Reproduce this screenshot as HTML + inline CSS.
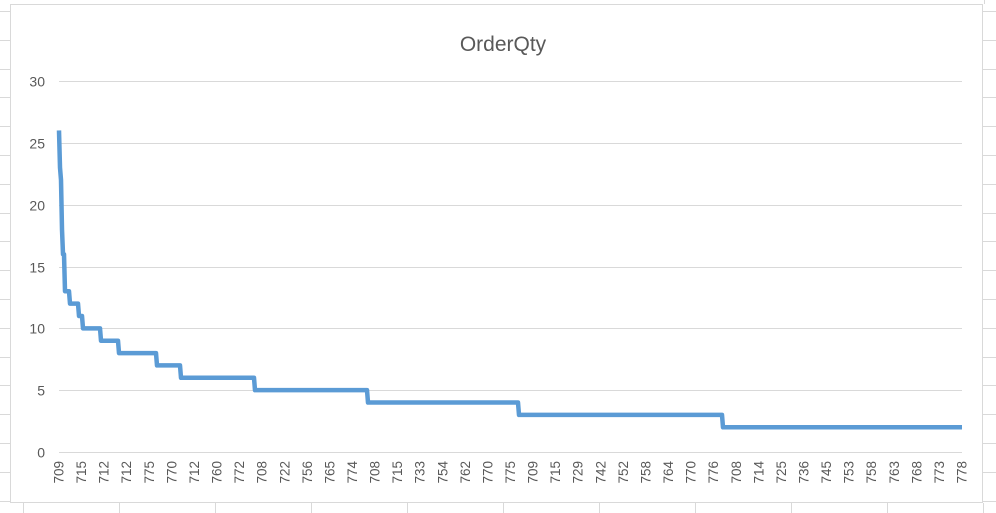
<!DOCTYPE html>
<html><head><meta charset="utf-8"><style>
html,body{margin:0;padding:0;background:#fff;}
svg{display:block;font-family:"Liberation Sans",Calibri,sans-serif;}
</style></head><body>
<svg id="chart" width="996" height="513" viewBox="0 0 996 513" xmlns="http://www.w3.org/2000/svg">
<g id="sheet" stroke="#d9d9d9" stroke-width="1"></g>
<rect x="10.5" y="4.5" width="972" height="498" fill="#fff" stroke="#d9d9d9"/>
<text x="503" y="51" text-anchor="middle" font-size="21" fill="#595959">OrderQty</text>
<g id="grid"></g>
<g id="yticks"></g>
<g id="xticks"></g>
<path id="line" fill="none" stroke="#5b9bd5" stroke-width="4.5" stroke-linejoin="round"/>
</svg>
<script>
const stepValues=[26,23,22,18,16,13,12,11,10,9,8,7,6,5,4,3,2];
const stepCounts=[1,1,1,1,2,5,9,4,18,18,38,24,74,113,151,204,240];
const yTicks=[0,5,10,15,20,25,30];
const xLabels=["709","715","712","712","775","770","712","760","772","708","722","756","765","774","708","715","733","754","762","770","775","709","715","729","742","752","758","764","770","776","708","714","725","736","745","753","758","763","768","773","778"];

const NS="http://www.w3.org/2000/svg";
const values=[];
stepValues.forEach((v,i)=>{for(let k=0;k<stepCounts[i];k++)values.push(v);});
const N=values.length;
const x0=59,x1=962,yTop=81,yBot=452,yMax=30;
const xs=i=>x0+i*(x1-x0)/(N-1);
const ys=v=>yBot-(v/yMax)*(yBot-yTop);

const sheet=document.getElementById('sheet');
function ln(p,x1_,y1_,x2_,y2_,name){const l=document.createElementNS(NS,'line');l.setAttribute('x1',x1_);l.setAttribute('y1',y1_);l.setAttribute('x2',x2_);l.setAttribute('y2',y2_);


p.appendChild(l);return l;}
for(let y=11;y<513;y+=28.8){ln(sheet,0,Math.round(y)+0.5,10,Math.round(y)+0.5,'sheet-row-line');ln(sheet,983,Math.round(y)+0.5,996,Math.round(y)+0.5,'sheet-row-line');}
for(let x=23;x<996;x+=96){ln(sheet,x+0.5,503,x+0.5,513,'sheet-col-line');}
ln(sheet,984.5,0,984.5,4,'sheet-col-line');

const grid=document.getElementById('grid'),yt=document.getElementById('yticks');
yTicks.forEach(t=>{const y=Math.round(ys(t))+0.5;const l=ln(grid,x0,y,x1,y,'gridline');l.setAttribute('stroke','#d9d9d9');l.setAttribute('stroke-width','1');
const tx=document.createElementNS(NS,'text');tx.setAttribute('x',45);tx.setAttribute('y',y+5);tx.setAttribute('text-anchor','end');tx.setAttribute('font-size','14');tx.setAttribute('fill','#595959');tx.textContent=t;


yt.appendChild(tx);});

const xt=document.getElementById('xticks');
xLabels.forEach((lab,i)=>{const idx=i*(N-1)/(xLabels.length-1);const x=xs(idx)+4.5;
const tx=document.createElementNS(NS,'text');tx.setAttribute('transform',`translate(${x},461) rotate(-90)`);tx.setAttribute('text-anchor','end');tx.setAttribute('font-size','13.5');tx.setAttribute('fill','#595959');tx.textContent=lab;


xt.appendChild(tx);});

let d='';values.forEach((v,i)=>{d+=(i?'L':'M')+xs(i).toFixed(2)+','+ys(v).toFixed(2);});
document.getElementById('line').setAttribute('d',d);
</script>
</body></html>
